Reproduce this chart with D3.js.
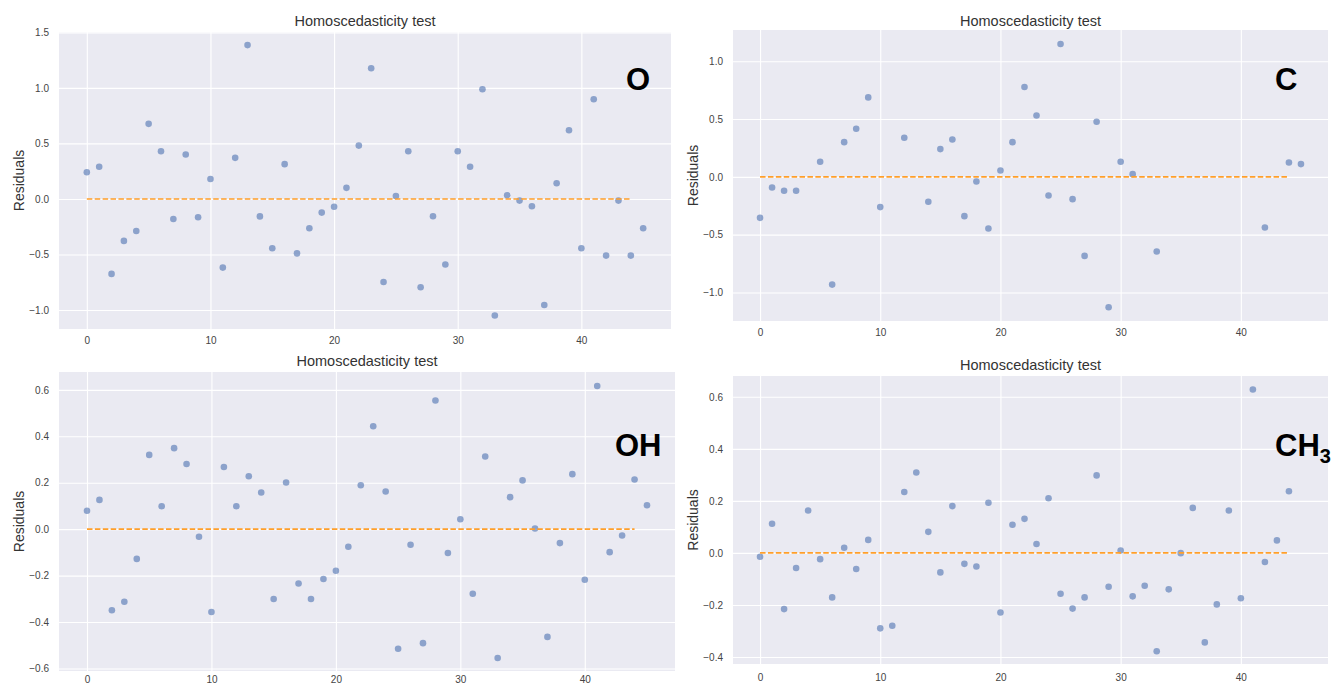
<!DOCTYPE html>
<html>
<head>
<meta charset="utf-8">
<script src="https://cdn.jsdelivr.net/npm/d3@7"></script>
<style>
  body { margin: 0; background: #fff; }
  svg { display: block; font-family: "Liberation Sans", Arial, sans-serif; }
</style>
</head>
<body>
<div id="chart-area"></div>
<script>
// residuals (x = sample index)
const residualsO = [0.24, 0.29, -0.675, -0.378, -0.288, 0.676, 0.43, -0.18, 0.40, -0.165,
    0.18, -0.618, 0.37, 1.385, -0.157, -0.444, 0.313, -0.49, -0.264, -0.123,
    -0.07, 0.10, 0.48, 1.177, -0.748, 0.027, 0.43, -0.795, -0.156, -0.59,
    0.43, 0.29, 0.988, -1.05, 0.033, -0.015, -0.066, -0.955, 0.141, 0.619,
    -0.444, 0.898, -0.51, -0.015, -0.51, -0.264];

const indexC = [0, 1, 2, 3, 5, 6, 7, 8, 9, 10, 12, 14, 15, 16, 17, 18, 19, 20,
    21, 22, 23, 24, 25, 26, 27, 28, 29, 30, 31, 33, 42, 44, 45];
const residualsC = [-0.355, -0.092, -0.121, -0.121, 0.13, -0.932, 0.30, 0.416, 0.687, -0.262,
    0.338, -0.216, 0.24, 0.323, -0.34, -0.04, -0.447, 0.055,
    0.30, 0.777, 0.531, -0.161, 1.149, -0.193, -0.684, 0.476, -1.128, 0.13, 0.023,
    -0.646, -0.438, 0.124, 0.11];

const residualsOH = [0.079, 0.126, -0.349, -0.313, -0.128, 0.32, 0.099, 0.349, 0.281, -0.033,
    -0.357, 0.268, 0.099, 0.228, 0.158, -0.301, 0.201, -0.234, -0.301, -0.215,
    -0.179, -0.076, 0.189, 0.443, 0.162, -0.515, -0.067, -0.491, 0.554, -0.103,
    0.043, -0.278, 0.313, -0.555, 0.138, 0.21, 0.003, -0.464, -0.06, 0.237,
    -0.218, 0.617, -0.099, -0.027, 0.214, 0.103];

const residualsCH3 = [-0.015, 0.112, -0.216, -0.058, 0.163, -0.024, -0.171, 0.02, -0.062, 0.05,
    -0.29, -0.28, 0.234, 0.309, 0.081, -0.075, 0.18, -0.042, -0.052, 0.193,
    -0.229, 0.108, 0.131, 0.034, 0.21, -0.157, -0.214, -0.171, 0.298, -0.13,
    0.009, -0.167, -0.126, -0.378, -0.14, -0.001, 0.173, -0.344, -0.198, 0.163,
    -0.174, 0.628, -0.035, 0.048, 0.237];

const xTicks = [0, 10, 20, 30, 40];
const xDomain = [-2.25, 47.25];
const zeroLineEnd = 44;
const yTicksO = [-1.0, -0.5, 0.0, 0.5, 1.0, 1.5];
const yTicksC = [-1.0, -0.5, 0.0, 0.5, 1.0];
const yTicksOH = [-0.6, -0.4, -0.2, 0.0, 0.2, 0.4, 0.6];
const yTicksCH3 = [-0.4, -0.2, 0.0, 0.2, 0.4, 0.6];

const svgWidth = 1337;
const svgHeight = 687;

const svg = d3.select("#chart-area")
    .append("svg")
    .attr("width", svgWidth)
    .attr("height", svgHeight);

const panels = [
    { x: residualsO.map((d, i) => i), y: residualsO, yDomain: [-1.171, 1.503], yTicks: yTicksO,
      box: { left: 59, right: 671, top: 32, bottom: 329 }, titleY: 26, tickY: 345,
      label: { text: "O", x: 626, y: 90 } },
    { x: indexC, y: residualsC, yDomain: [-1.247, 1.27], yTicks: yTicksC,
      box: { left: 733, right: 1328, top: 30, bottom: 321 }, titleY: 26, tickY: 337,
      label: { text: "C", x: 1275, y: 90 } },
    { x: residualsOH.map((d, i) => i), y: residualsOH, yDomain: [-0.611, 0.677], yTicks: yTicksOH,
      box: { left: 59, right: 675, top: 372, bottom: 671 }, titleY: 366, tickY: 684,
      label: { text: "OH", x: 615, y: 456 } },
    { x: residualsCH3.map((d, i) => i), y: residualsCH3, yDomain: [-0.427, 0.68], yTicks: yTicksCH3,
      box: { left: 733, right: 1328, top: 376, bottom: 664 }, titleY: 370, tickY: 682,
      label: { text: "CH", sub: "3", x: 1275, y: 456 } }
];

panels.forEach(drawPanel);

function drawPanel(p) {
    const { left, right, top, bottom } = p.box;
    const xScale = d3.scaleLinear().domain(xDomain).range([left, right]);
    const yScale = d3.scaleLinear().domain(p.yDomain).range([bottom, top]);
    const g = svg.append("g");

    g.append("rect")
        .attr("x", left)
        .attr("y", top)
        .attr("width", right - left)
        .attr("height", bottom - top)
        .attr("fill", "#eaeaf2");

    // grid lines through the axes, tick marks hidden
    const xAxis = g.append("g")
        .attr("transform", `translate(0,${bottom})`)
        .call(d3.axisBottom(xScale)
            .tickValues(xTicks)
            .tickSize(-(bottom - top))
            .tickPadding(p.tickY - bottom - 8)
            .tickFormat(d3.format("d")));
    xAxis.select(".domain").remove();
    xAxis.selectAll("line").attr("stroke", "#fff").attr("stroke-width", 1.1);
    xAxis.selectAll("text")
        .attr("fill", "#444")
        .style("font-size", "10px")
        .style("font-family", "'Liberation Sans', Arial, sans-serif");

    const yAxis = g.append("g")
        .attr("transform", `translate(${left},0)`)
        .call(d3.axisLeft(yScale)
            .tickValues(p.yTicks)
            .tickSize(-(right - left))
            .tickPadding(10)
            .tickFormat(d => d3.format(".1f")(d).replace("-", "\u2212")));
    yAxis.select(".domain").remove();
    yAxis.selectAll("line").attr("stroke", "#fff").attr("stroke-width", 1.1);
    yAxis.selectAll("text")
        .attr("fill", "#444")
        .style("font-size", "10px")
        .style("font-family", "'Liberation Sans', Arial, sans-serif");

    g.selectAll("circle")
        .data(p.y)
        .join("circle")
        .attr("cx", (d, i) => xScale(p.x[i]))
        .attr("cy", d => yScale(d))
        .attr("r", 3.3)
        .attr("fill", "#4c72b0")
        .attr("fill-opacity", 0.6);

    g.append("line")
        .attr("x1", xScale(0))
        .attr("x2", xScale(zeroLineEnd))
        .attr("y1", yScale(0))
        .attr("y2", yScale(0))
        .attr("stroke", "#ff9f2a")
        .attr("stroke-width", 1.6)
        .attr("stroke-dasharray", "5.5,2.4");

    g.append("text")
        .attr("x", (left + right) / 2)
        .attr("y", p.titleY)
        .attr("text-anchor", "middle")
        .attr("fill", "#333")
        .style("font-size", "14.5px")
        .text("Homoscedasticity test");

    g.append("text")
        .attr("transform", "rotate(-90)")
        .attr("x", -(top + bottom) / 2)
        .attr("y", left - 35)
        .attr("text-anchor", "middle")
        .attr("fill", "#333")
        .style("font-size", "14px")
        .text("Residuals");

    const lbl = g.append("text")
        .attr("x", p.label.x)
        .attr("y", p.label.y)
        .attr("fill", "#000")
        .style("font-size", "31px")
        .style("font-weight", "bold")
        .text(p.label.text);
    if (p.label.sub) {
        lbl.append("tspan")
            .attr("dy", 7)
            .style("font-size", "20px")
            .text(p.label.sub);
    }
}
</script>
</body>
</html>
